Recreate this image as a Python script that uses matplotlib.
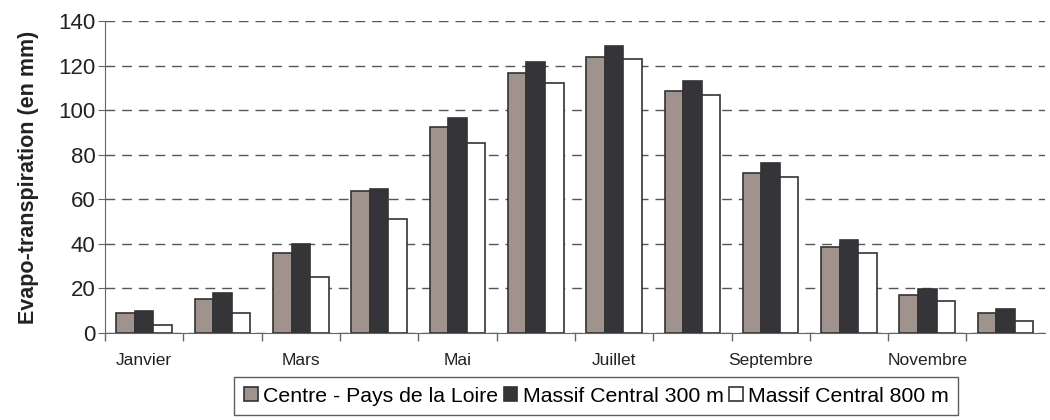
import matplotlib
matplotlib.use("Agg")
import matplotlib.pyplot as plt
import numpy as np

plt.rcParams['font.family'] = ['Liberation Sans', 'DejaVu Sans']

months = ["Janvier", "Février", "Mars", "Avril", "Mai", "Juin", "Juillet",
          "Août", "Septembre", "Octobre", "Novembre", "Décembre"]
tick_labels = ["Janvier", "", "Mars", "", "Mai", "", "Juillet", "",
               "Septembre", "", "Novembre", ""]
centre_loire = [9.0, 15.3, 35.9, 63.7, 92.5, 116.7, 123.9, 108.7, 71.7, 38.5, 17.2, 9.0]
massif_300 = [9.9, 18.1, 39.8, 64.7, 96.3, 121.5, 128.7, 113.3, 76.4, 41.6, 19.9, 11.0]
massif_800 = [3.8, 9.0, 25.3, 51.2, 85.2, 112.3, 123.0, 106.8, 69.9, 35.9, 14.4, 5.4]
series_names = ["Centre - Pays de la Loire", "Massif Central 300 m", "Massif Central 800 m"]
colors = ["#a0938e", "#353438", "#ffffff"]

fig = plt.figure(figsize=(10.5, 4.2), dpi=100)
ax = fig.add_axes([0.1, 0.207, 0.895, 0.743])

x = np.arange(len(months))
w = 0.237
for i, (vals, c, name) in enumerate(zip([centre_loire, massif_300, massif_800], colors, series_names)):
    ax.bar(x + (i - 1) * w, vals, width=w, color=c, edgecolor="#333333",
           linewidth=1.2, label=name, zorder=3)

ax.set_xlim(-0.5, 11.5)
ax.set_ylim(0, 140)
ax.set_yticks(np.arange(0, 141, 20))
ax.yaxis.grid(True, linestyle=(0, (7, 5)), color="#555555", linewidth=1.0, zorder=0)
ax.set_axisbelow(True)

ax.set_xticks(np.arange(-0.5, 11.0, 1.0))
ax.set_xticklabels([])
ax.set_xticks(x, minor=True)
ax.set_xticklabels(tick_labels, minor=True, fontsize=12.5, color="#222222")
ax.tick_params(axis="x", which="major", length=6, color="#666666", width=1)
ax.tick_params(axis="x", which="minor", length=0, pad=14)
ax.tick_params(axis="y", length=5, color="#666666", labelsize=16, labelcolor="#222222", pad=2)

for s in ["top", "right"]:
    ax.spines[s].set_visible(False)
ax.spines["left"].set_color("#666666")
ax.spines["bottom"].set_color("#666666")

ax.set_ylabel("Evapo-transpiration (en mm)", fontsize=15.5, fontweight="bold", color="#222222", labelpad=14)

leg = fig.legend(loc="center", bbox_to_anchor=(0.568, 0.057), ncol=3, fontsize=15.3,
                 frameon=True, fancybox=False, edgecolor="#333333",
                 handlelength=0.65, handleheight=0.65, handletextpad=0.25,
                 columnspacing=0.25, borderpad=0.45, borderaxespad=0)
leg.get_frame().set_linewidth(1.0)

fig.savefig("out.png", dpi=100, facecolor="white")
